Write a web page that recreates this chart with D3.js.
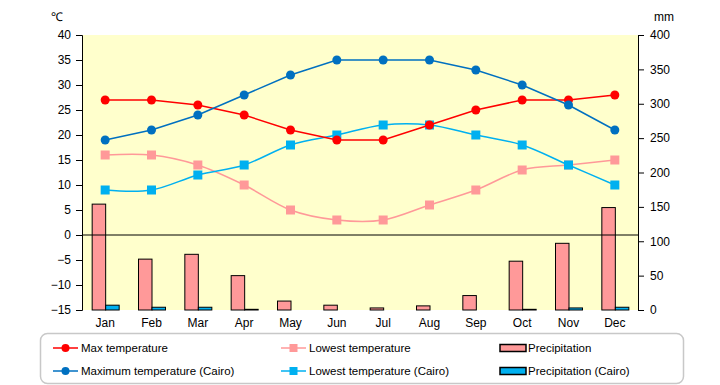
<!DOCTYPE html>
<html>
<head>
<meta charset="utf-8">
<script src="https://cdn.jsdelivr.net/npm/d3@7"></script>
<style>
  body { margin: 0; background: #fff; }
  svg { display: block; font-family: "Liberation Sans", Arial, sans-serif; }
</style>
</head>
<body>
<figure style="margin:0"></figure>
<script>
const months = ["Jan","Feb","Mar","Apr","May","Jun","Jul","Aug","Sep","Oct","Nov","Dec"]
const maxTemp = [27, 27, 26, 24, 21, 19, 19, 22, 25, 27, 27, 28]
const lowTemp = [16, 16, 14, 10, 5, 3, 3, 6, 9, 13, 14, 15]
const precip = [154, 74, 81, 50, 13, 7, 3, 6, 21, 71, 97, 149]
const maxCairo = [19, 21, 24, 28, 32, 35, 35, 35, 33, 30, 26, 21]
const lowCairo = [9, 9, 12, 14, 18, 20, 22, 22, 20, 18, 14, 10]
const precipCairo = [7, 4, 4, 1, 0, 0, 0, 0, 0, 1, 3, 4]
const tempTicks = d3.range(-15, 41, 5)
const mmTicks = d3.range(0, 401, 50)

const W = 720, H = 385,
    margin = {top: 35, right: 82, bottom: 75, left: 82}

var svg = d3.select("figure").append("svg").attr("width", W).attr("height", H)

var x = d3.scaleBand().domain(months).range([margin.left, W - margin.right])
var yT = d3.scaleLinear().domain([-15, 40]).range([H - margin.bottom, margin.top])
var yP = d3.scaleLinear().domain([0, 400]).range([H - margin.bottom, margin.top])
var cx = m => x(m) + x.bandwidth() / 2

// plot background
svg.append("rect")
    .attr("x", margin.left).attr("y", margin.top)
    .attr("width", W - margin.left - margin.right)
    .attr("height", H - margin.top - margin.bottom)
    .attr("fill", "#ffffcc")

// bars
var bw = 13.5
svg.append("g").selectAll("rect").data(months).join("rect")
    .attr("x", m => cx(m) - 13)
    .attr("y", (m, i) => yP(precip[i]))
    .attr("width", bw)
    .attr("height", (m, i) => yP(0) - yP(precip[i]))
    .attr("fill", "#ff9999").attr("stroke", "#000").attr("stroke-width", 1)
svg.append("g").selectAll("rect").data(months).join("rect")
    .attr("x", m => cx(m) - 13 + bw)
    .attr("y", (m, i) => yP(precipCairo[i]))
    .attr("width", bw)
    .attr("height", (m, i) => yP(0) - yP(precipCairo[i]))
    .attr("fill", "#00b0f0").attr("stroke", "#000").attr("stroke-width", 1)
    .attr("display", (m, i) => precipCairo[i] > 0 ? null : "none")

// zero line
svg.append("line")
    .attr("x1", margin.left).attr("x2", W - margin.right)
    .attr("y1", yT(0)).attr("y2", yT(0))
    .attr("stroke", "#000")

// axes
var axL = svg.append("g").attr("transform", "translate(" + margin.left + ",0)")
    .call(d3.axisLeft(yT).tickValues(tempTicks).tickSize(6).tickPadding(5).tickFormat(d => d < 0 ? "\u2212" + (-d) : d))
var axR = svg.append("g").attr("transform", "translate(" + (W - margin.right) + ",0)")
    .call(d3.axisRight(yP).tickValues(mmTicks).tickSize(6).tickPadding(6))
;[axL, axR].forEach(a => {
  a.select(".domain").attr("stroke", "#000")
  a.selectAll("text").attr("font-size", 12).attr("fill", "#000").attr("font-family", "Liberation Sans, Arial, sans-serif")
})

svg.append("g").selectAll("text").data(months).join("text")
    .attr("x", cx).attr("y", H - margin.bottom + 17)
    .attr("text-anchor", "middle").attr("font-size", 12)
    .text(d => d)

svg.append("text").attr("x", 51).attr("y", 21).attr("font-size", 12).text("\u2103")
svg.append("text").attr("x", 654).attr("y", 21).attr("font-size", 12).text("mm")

// lines
var straight = d3.line().x((d, i) => cx(months[i])).y(d => yT(d))
var smooth = d3.line().x((d, i) => cx(months[i])).y(d => yT(d)).curve(d3.curveCatmullRom.alpha(0))

const series = [
  {data: lowTemp, color: "#ff9999", shape: "square", gen: smooth},
  {data: lowCairo, color: "#00b0f0", shape: "square", gen: smooth},
  {data: maxTemp, color: "#ff0000", shape: "circle", gen: straight},
  {data: maxCairo, color: "#0070c0", shape: "circle", gen: straight}
]

series.forEach(s => {
  svg.append("path").datum(s.data)
      .attr("d", s.gen).attr("fill", "none")
      .attr("stroke", s.color).attr("stroke-width", 1.5)
  var g = svg.append("g")
  if (s.shape == "circle") {
    g.selectAll("circle").data(s.data).join("circle")
        .attr("cx", (d, i) => cx(months[i])).attr("cy", d => yT(d))
        .attr("r", 4.5).attr("fill", s.color)
  } else {
    g.selectAll("rect").data(s.data).join("rect")
        .attr("x", (d, i) => cx(months[i]) - 4.5).attr("y", d => yT(d) - 4.5)
        .attr("width", 9).attr("height", 9).attr("fill", s.color)
  }
})

// legend
var lg = svg.append("g")
lg.append("rect").attr("x", 40.5).attr("y", 333.5).attr("width", 643).attr("height", 50)
    .attr("rx", 7).attr("fill", "#fff").attr("stroke", "#c8c8c8").attr("stroke-width", 1.5)

const legendItems = [
  {label: "Max temperature", color: "#ff0000", shape: "circle", x: 53, y: 348},
  {label: "Lowest temperature", color: "#ff9999", shape: "square", x: 281, y: 348},
  {label: "Precipitation", color: "#ff9999", shape: "bar", x: 500, y: 348},
  {label: "Maximum temperature (Cairo)", color: "#0070c0", shape: "circle", x: 53, y: 371},
  {label: "Lowest temperature (Cairo)", color: "#00b0f0", shape: "square", x: 281, y: 371},
  {label: "Precipitation (Cairo)", color: "#00b0f0", shape: "bar", x: 500, y: 371}
]

legendItems.forEach(it => {
  if (it.shape == "bar") {
    lg.append("rect").attr("x", it.x).attr("y", it.y - 3.5).attr("width", 26).attr("height", 7)
        .attr("fill", it.color).attr("stroke", "#000").attr("stroke-width", 1.5)
  } else {
    lg.append("line").attr("x1", it.x).attr("x2", it.x + 25).attr("y1", it.y).attr("y2", it.y)
        .attr("stroke", it.color).attr("stroke-width", 1.5)
    if (it.shape == "circle")
      lg.append("circle").attr("cx", it.x + 12.5).attr("cy", it.y).attr("r", 4).attr("fill", it.color)
    else
      lg.append("rect").attr("x", it.x + 8.5).attr("y", it.y - 4).attr("width", 8).attr("height", 8).attr("fill", it.color)
  }
  lg.append("text").attr("x", it.x + 28).attr("y", it.y + 4).attr("font-size", 11.5).text(it.label)
})
</script>
</body>
</html>
